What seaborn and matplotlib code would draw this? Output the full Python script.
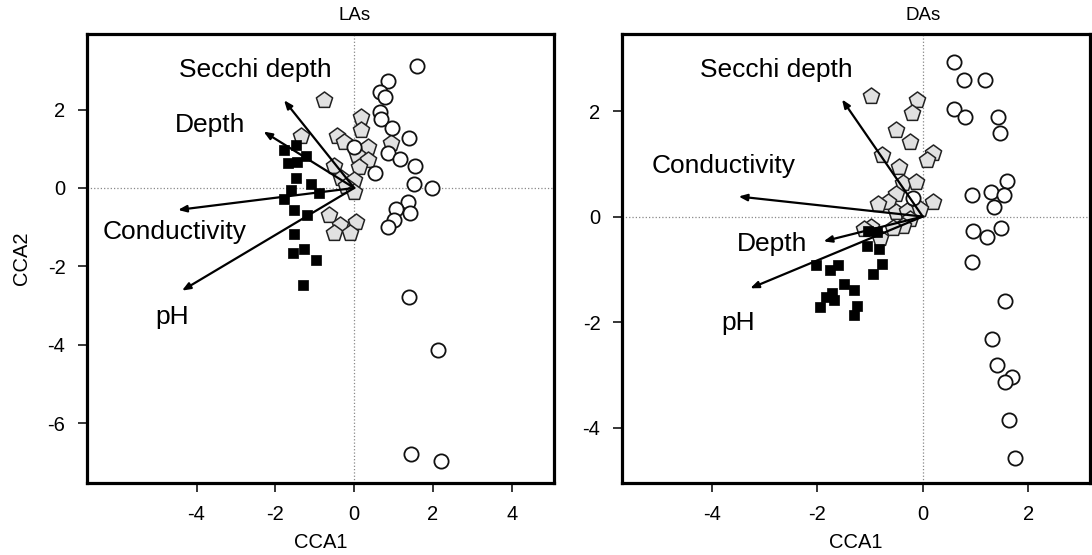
import matplotlib
matplotlib.use("Agg")
import matplotlib.pyplot as plt
import seaborn as sns
import pandas as pd

sns.set_style("ticks")
plt.rcParams['font.family'] = ['Liberation Sans', 'DejaVu Sans']
plt.rcParams['axes.unicode_minus'] = False
plt.rcParams['text.color'] = 'black'
plt.rcParams['axes.labelcolor'] = 'black'
plt.rcParams['xtick.color'] = 'black'
plt.rcParams['ytick.color'] = 'black'
plt.rcParams['axes.edgecolor'] = 'black'

# LAs panel
la_circ_x = [1.60, 0.85, 0.66, 0.79, 0.66, 0.68, 0.95, 1.38, 0.86, 1.17, 1.55, 0.54, 1.52, 1.98,
             1.36, 1.06, 1.41, 1.02, 0.87, 0.0, 1.39, 2.12, 1.44, 2.20]
la_circ_y = [3.11, 2.74, 2.44, 2.31, 1.95, 1.75, 1.53, 1.28, 0.90, 0.73, 0.57, 0.39, 0.09, 0.01,
             -0.37, -0.54, -0.63, -0.83, -0.99, 1.04, -2.77, -4.13, -6.79, -6.98]
la_pent_x = [-0.76, 0.17, 0.17, -1.34, -0.44, -0.25, 0.34, 0.07, 0.36, 0.93, 0.13, -0.51, -0.34,
             0.0, -0.21, 0.0, -0.63, -0.36, 0.04, -0.51, -0.10]
la_pent_y = [2.24, 1.80, 1.48, 1.33, 1.33, 1.18, 1.04, 0.84, 0.71, 1.16, 0.54, 0.56, 0.25,
             0.20, 0.05, -0.09, -0.69, -0.94, -0.88, -1.16, -1.16]
la_sq_x = [-1.78, -1.48, -1.23, -1.69, -1.44, -1.48, -1.10, -0.89, -1.61, -1.78, -1.52, -1.20,
           -1.52, -1.55, -1.27, -0.96, -1.29]
la_sq_y = [0.97, 1.10, 0.82, 0.63, 0.67, 0.25, 0.10, -0.14, -0.05, -0.27, -0.56, -0.69,
           -1.18, -1.65, -1.56, -1.85, -2.47]
la_vars = ["Secchi depth", "Depth", "Conductivity", "pH"]
la_arrow_x = [-1.78, -2.30, -4.47, -4.37]
la_arrow_y = [2.24, 1.44, -0.56, -2.62]
la_lab_x = [-2.52, -3.65, -4.55, -4.63]
la_lab_y = [3.01, 1.61, -1.12, -3.29]

# DAs panel
da_circ_x = [0.60, 0.79, 1.18, 0.59, 0.80, 1.43, 1.46, 1.59, 0.94, 1.29, 1.54, 1.35, -0.18, 0.96,
             1.22, 1.48, 0.93, 1.56, 1.31, 1.40, 1.70, 1.56, 1.64, 1.75]
da_circ_y = [2.92, 2.58, 2.59, 2.03, 1.88, 1.88, 1.59, 0.68, 0.41, 0.46, 0.40, 0.19, 0.36, -0.27,
             -0.38, -0.22, -0.86, -1.60, -2.32, -2.82, -3.04, -3.14, -3.85, -4.58]
da_pent_x = [-0.98, -0.11, -0.21, -0.51, -0.24, 0.19, 0.09, -0.78, -0.45, -0.38, -0.13, -0.51,
             -0.65, -0.84, 0.19, -0.51, -0.30, -0.05, -0.24, -0.37, -0.57, -0.98, -0.81, -1.12]
da_pent_y = [2.29, 2.20, 1.96, 1.64, 1.42, 1.20, 1.07, 1.16, 0.93, 0.64, 0.65, 0.42,
             0.28, 0.23, 0.28, 0.08, 0.11, 0.14, -0.05, -0.17, -0.22, -0.19, -0.41, -0.24]
da_sq_x = [-1.03, -0.87, -1.06, -0.83, -0.77, -0.94, -2.03, -1.76, -1.60, -1.50, -1.30, -1.72,
           -1.83, -1.69, -1.94, -1.24, -1.30]
da_sq_y = [-0.28, -0.30, -0.55, -0.62, -0.90, -1.09, -0.91, -1.02, -0.91, -1.27, -1.40, -1.45,
           -1.52, -1.59, -1.72, -1.69, -1.86]
da_vars = ["Secchi depth", "Conductivity", "Depth", "pH"]
da_arrow_x = [-1.53, -3.49, -1.88, -3.27]
da_arrow_y = [2.22, 0.38, -0.47, -1.36]
da_lab_x = [-2.78, -3.78, -2.85, -3.49]
da_lab_y = [2.78, 0.95, -0.52, -2.02]

panels = [
    dict(title="LAs", cx=la_circ_x, cy=la_circ_y, px=la_pent_x, py=la_pent_y, sx=la_sq_x, sy=la_sq_y,
         vars=la_vars, ax_=la_arrow_x, ay_=la_arrow_y, lx=la_lab_x, ly=la_lab_y,
         xlim=(-6.78, 5.07), ylim=(-7.53, 3.93), xt=[-4, -2, 0, 2, 4], yt=[-6, -4, -2, 0, 2],
         pos=[87 / 1092, 72 / 555, 467 / 1092, 449 / 555], ylabel="CCA2"),
    dict(title="DAs", cx=da_circ_x, cy=da_circ_y, px=da_pent_x, py=da_pent_y, sx=da_sq_x, sy=da_sq_y,
         vars=da_vars, ax_=da_arrow_x, ay_=da_arrow_y, lx=da_lab_x, ly=da_lab_y,
         xlim=(-5.70, 3.17), ylim=(-5.05, 3.46), xt=[-4, -2, 0, 2], yt=[-4, -2, 0, 2],
         pos=[622 / 1092, 72 / 555, 468 / 1092, 449 / 555], ylabel=""),
]

fig = plt.figure(figsize=(10.92, 5.55), dpi=100)

for p in panels:
    ax = fig.add_axes(p["pos"])
    ax.axhline(0, color="#888888", ls=":", lw=0.9, zorder=1)
    ax.axvline(0, color="#888888", ls=":", lw=0.9, zorder=1)

    sns.scatterplot(x=p["px"], y=p["py"], ax=ax, marker="p", s=150, color="#e1e1e1",
                    edgecolor="#222222", linewidth=1.1, zorder=2)
    sns.scatterplot(x=p["cx"], y=p["cy"], ax=ax, marker="o", s=105, color="white",
                    edgecolor="#111111", linewidth=1.3, zorder=3)
    sns.scatterplot(x=p["sx"], y=p["sy"], ax=ax, marker="s", s=60, color="black",
                    edgecolor="black", linewidth=0.5, zorder=4)

    for name, x, y, lx, ly in zip(p["vars"], p["ax_"], p["ay_"], p["lx"], p["ly"]):
        ax.annotate("", xy=(x, y), xytext=(0, 0),
                    arrowprops=dict(arrowstyle="-|>,head_length=0.35,head_width=0.14",
                                    color="black", lw=1.6, shrinkA=0, shrinkB=0, mutation_scale=14),
                    zorder=5)
        ax.text(lx, ly, name, ha="center", va="center", fontsize=19, zorder=6)

    ax.set_xlim(p["xlim"])
    ax.set_ylim(p["ylim"])
    ax.set_xticks(p["xt"])
    ax.set_yticks(p["yt"])
    ax.tick_params(labelsize=14.5, length=6.5, width=1.1, pad=9, direction="out")
    for sp in ax.spines.values():
        sp.set_linewidth(2.3)
    ax.set_xlabel("CCA1", fontsize=14.5, labelpad=7)
    ax.set_ylabel(p["ylabel"], fontsize=14.5, labelpad=12)
    ax.text(0, 1.022, p["title"], transform=ax.get_xaxis_transform(),
            ha="center", va="bottom", fontsize=13.5)

fig.savefig("out.png", dpi=100)
